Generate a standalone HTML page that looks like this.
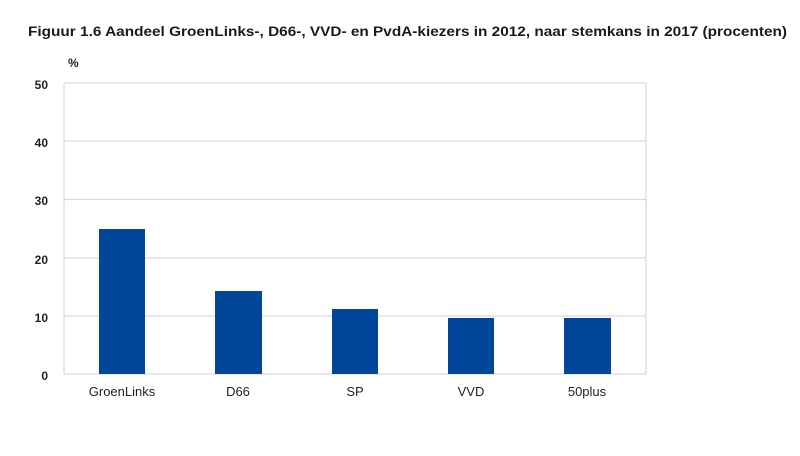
<!DOCTYPE html>
<html><head><meta charset="utf-8"><style>html,body{margin:0;padding:0;background:#fff}</style></head>
<body>
<svg width="800" height="451" viewBox="0 0 800 451" xmlns="http://www.w3.org/2000/svg" font-family="Liberation Sans, sans-serif">
<rect width="800" height="451" fill="#fff"/>
<text x="28" y="36" font-size="13.5" font-weight="bold" fill="#1a1a1a" textLength="759" lengthAdjust="spacingAndGlyphs">Figuur 1.6  Aandeel GroenLinks-, D66-, VVD- en PvdA-kiezers in 2012, naar stemkans in 2017 (procenten)</text>
<text x="68" y="67" font-size="12" font-weight="bold" fill="#222">%</text>
<g stroke="#d9d9d9" stroke-width="1.2">
<line x1="64" y1="83" x2="646" y2="83"/>
<line x1="64" y1="141" x2="646" y2="141"/>
<line x1="64" y1="199.5" x2="646" y2="199.5"/>
<line x1="64" y1="258" x2="646" y2="258"/>
<line x1="64" y1="316" x2="646" y2="316"/>
<line x1="64" y1="374" x2="646" y2="374"/>
<line x1="64" y1="83" x2="64" y2="374"/>
<line x1="646" y1="83" x2="646" y2="374"/>
</g>
<g font-size="12" font-weight="bold" fill="#222" text-anchor="end">
<text x="48" y="89">50</text><text x="48" y="147">40</text><text x="48" y="205">30</text>
<text x="48" y="264">20</text><text x="48" y="322">10</text><text x="48" y="380">0</text>
</g>
<g fill="#004699">
<rect x="99" y="229" width="46" height="145"/>
<rect x="215" y="291" width="47" height="83"/>
<rect x="332" y="309" width="46" height="65"/>
<rect x="448" y="318" width="46" height="56"/>
<rect x="564" y="318" width="47" height="56"/>
</g>
<g font-size="13" fill="#222" text-anchor="middle">
<text x="122" y="396">GroenLinks</text><text x="238" y="396">D66</text><text x="355" y="396">SP</text>
<text x="471" y="396">VVD</text><text x="587" y="396">50plus</text>
</g>
</svg>
</body></html>
